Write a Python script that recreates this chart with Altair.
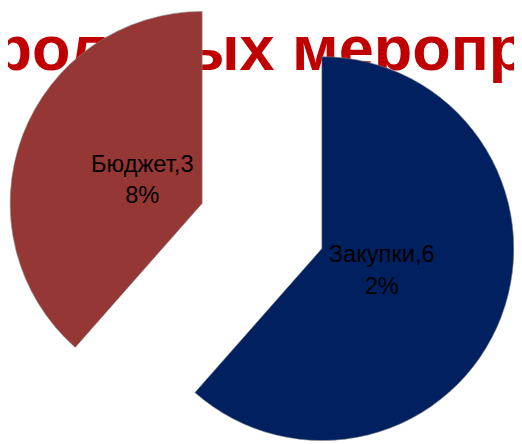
import altair as alt
import pandas as pd

# Data
categories = ["Закупки", "Бюджет"]
values = [61.5, 38.5]
label_texts = ["Закупки,6\n2%", "Бюджет,3\n8%"]
colors = ["#002060", "#953735"]
title_text = "контрольных мероприятий"

# Layout (plot-area coordinates)
CX, CY = 258, 218
EXPLODE = 65
RADIUS = 195
LABR = 65

df = pd.DataFrame({"cat": categories, "value": values, "label": label_texts,
                   "order": list(range(len(categories)))})

base = alt.Chart(df).transform_joinaggregate(
    total="sum(value)"
).transform_window(
    cum="sum(value)", sort=[alt.SortField("order")]
).transform_calculate(
    t0="2*PI*(datum.cum - datum.value)/datum.total",
    t1="2*PI*datum.cum/datum.total",
).transform_calculate(
    mid="(datum.t0 + datum.t1)/2"
).transform_calculate(
    cx=f"{CX} + {EXPLODE}*sin(datum.mid)",
    cy=f"{CY} - {EXPLODE}*cos(datum.mid)",
    lx=f"{CX} + {EXPLODE + LABR}*sin(datum.mid)",
    ly=f"{CY} - {EXPLODE + LABR}*cos(datum.mid)",
)

arcs = base.mark_arc(outerRadius=RADIUS, stroke="#8a8a8a", strokeWidth=0.6).encode(
    x=alt.X("cx:Q", scale=None, axis=None),
    y=alt.Y("cy:Q", scale=None, axis=None),
    theta=alt.Theta("t0:Q", scale=None),
    theta2="t1:Q",
    color=alt.Color("cat:N", scale=alt.Scale(domain=categories, range=colors), legend=None),
)

labels = base.mark_text(
    font="Liberation Sans", fontSize=24, color="#000000", lineBreak="\n",
    align="center", baseline="middle", lineHeight=32, dy=-16
).encode(
    x=alt.X("lx:Q", scale=None, axis=None),
    y=alt.Y("ly:Q", scale=None, axis=None),
    text="label:N",
)

title = alt.Chart(pd.DataFrame({"t": [title_text]})).mark_text(
    font="Liberation Sans", fontSize=64, fontWeight="bold", color="#C00000",
    align="left", baseline="alphabetic"
).encode(
    x=alt.value(-155), y=alt.value(60), text="t:N"
)

chart = alt.layer(title, arcs, labels).properties(
    width=514, height=436, padding=0,
    autosize=alt.AutoSizeParams(type="none")
).configure_view(stroke=None)

chart.save("out.html", embed_options={"renderer": "svg", "actions": False})
